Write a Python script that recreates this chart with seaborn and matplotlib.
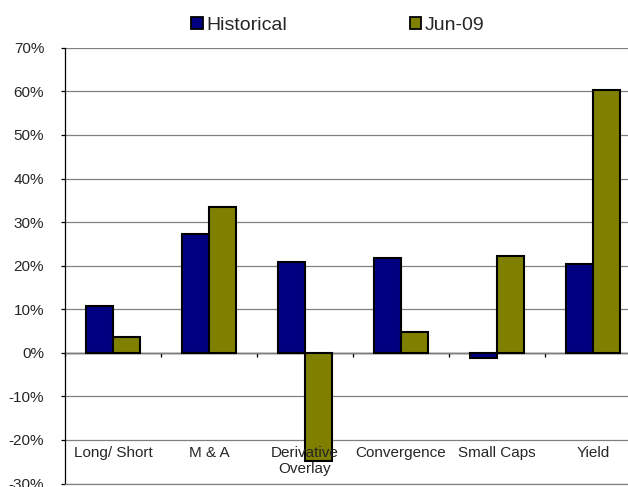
import matplotlib
matplotlib.use("Agg")
import matplotlib.pyplot as plt
import matplotlib.ticker as mticker
from matplotlib.patches import Patch
import seaborn as sns
import pandas as pd

categories = ["Long/ Short", "M & A", "Derivative\nOverlay", "Convergence", "Small Caps", "Yield"]
historical = [0.108, 0.272, 0.209, 0.217, -0.011, 0.204]
jun09 = [0.036, 0.334, -0.248, 0.048, 0.222, 0.603]
series_names = ["Historical", "Jun-09"]
colors = ["#000080", "#808000"]
y_ticks = [-0.3, -0.2, -0.1, 0.0, 0.1, 0.2, 0.3, 0.4, 0.5, 0.6, 0.7]

df = pd.DataFrame({
    "category": categories * 2,
    "value": historical + jun09,
    "series": [series_names[0]] * len(categories) + [series_names[1]] * len(categories),
})

sns.set_style("white")
plt.rcParams["font.family"] = ["Liberation Sans", "DejaVu Sans"]
plt.rcParams["axes.unicode_minus"] = False

W, H = 628, 487
fig = plt.figure(figsize=(W / 100, H / 100), dpi=100)
# axes spans 65..641 px horizontally (right part clipped by figure edge)
ax = fig.add_axes([65 / W, 1 - 483.5 / H, 576 / W, (483.5 - 47.8) / H])

sns.barplot(data=df, x="category", y="value", hue="series", order=categories,
            hue_order=series_names, palette=colors, saturation=1, width=0.57,
            edgecolor="black", linewidth=1.5, ax=ax, legend=False)

n = len(categories)
ax.set_xlim(-0.5, n - 0.5)
ax.set_ylim(y_ticks[0], y_ticks[-1])
ax.set_yticks(y_ticks)
ax.yaxis.set_major_formatter(mticker.FuncFormatter(lambda v, p: f"{int(round(v * 100))}%"))
ax.set_axisbelow(True)
ax.grid(axis="y", color="#808080", linewidth=0.9)
ax.grid(axis="x", visible=False)
ax.set_xlabel("")
ax.set_ylabel("")

for s in ["top", "right"]:
    ax.spines[s].set_visible(False)
ax.spines["bottom"].set_color("#808080")
ax.spines["bottom"].set_linewidth(0.9)
ax.spines["left"].set_color("black")
ax.spines["left"].set_linewidth(0.9)

ax.tick_params(axis="y", which="major", left=True, direction="out", length=3,
               width=0.9, color="black", pad=12, labelsize=11)

# Category labels placed low inside the plot, drawn on top of bars
ax.set_xticks(range(n))
ax.set_xticklabels(categories, fontsize=11, linespacing=1.2)
ax.tick_params(axis="x", length=0, pad=-27.0)
ax.xaxis.set_zorder(3)

# Zero axis line with boundary ticks
secax = ax.secondary_xaxis(0, transform=ax.transData)
secax.set_xticks([i - 0.5 for i in range(n + 1)])
secax.tick_params(axis="x", direction="out", length=3, width=0.9, color="black",
                  labelbottom=False, labeltop=False)
for s in secax.spines.values():
    s.set_visible(False)
secax.spines["bottom"].set_visible(True)
secax.spines["bottom"].set_color("black")
secax.spines["bottom"].set_linewidth(1.0)

handles = [Patch(facecolor=c, edgecolor="black", linewidth=1.3) for c in colors]
fig.legend(handles, series_names, loc="center", bbox_to_anchor=(0.538, 0.947),
           ncol=2, frameon=False, fontsize=14, handlelength=0.57, handleheight=0.57,
           handletextpad=0.2, columnspacing=6.3, borderpad=0.1)

fig.savefig("out.png", dpi=100)
